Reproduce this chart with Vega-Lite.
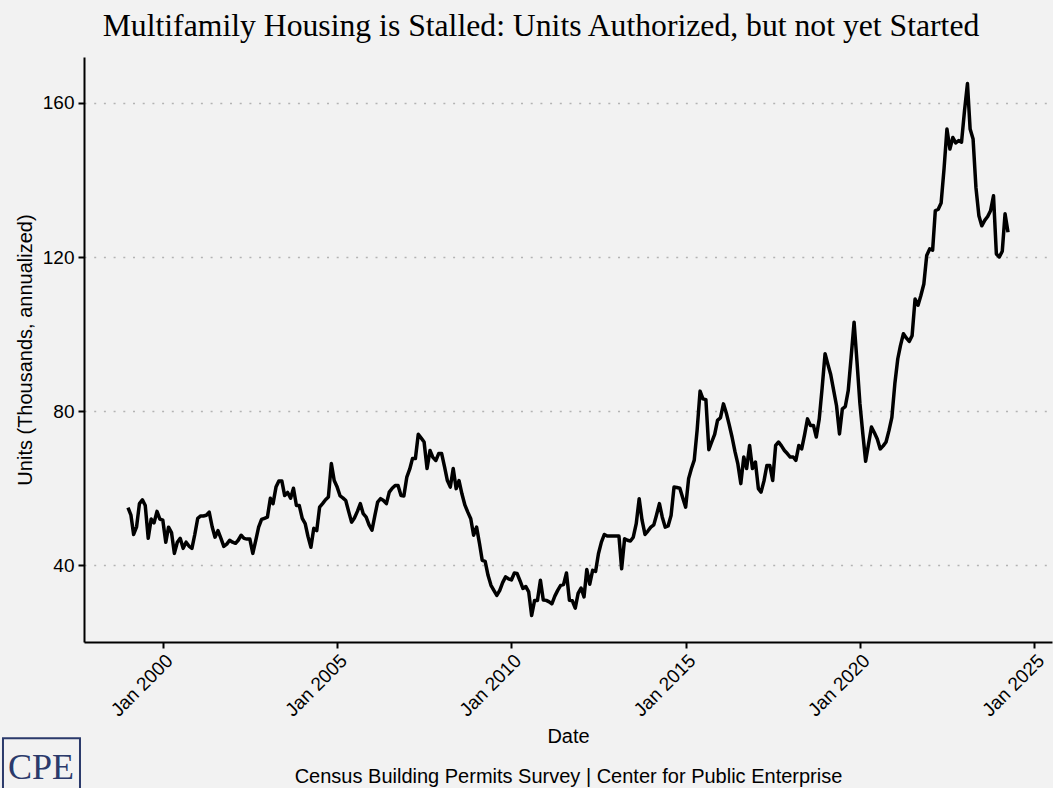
{
  "$schema": "https://vega.github.io/schema/vega-lite/v6.json",
  "width": 968,
  "height": 585,
  "autosize": {"type": "none"},
  "padding": {"left": 84, "top": 57, "right": 1, "bottom": 146},
  "background": "#f2f2f2",
  "title": {
    "text": "Multifamily Housing is Stalled: Units Authorized, but not yet Started",
    "font": "Liberation Serif",
    "fontSize": 31.7,
    "fontWeight": "normal",
    "color": "black",
    "anchor": "middle",
    "dx": -27,
    "offset": 14
  },
  "config": {
    "view": {"stroke": null},
    "font": "Liberation Sans",
    "axis": {
      "domainColor": "black",
      "domainWidth": 2,
      "tickColor": "black",
      "tickWidth": 2,
      "tickSize": 6,
      "labelColor": "black",
      "labelFont": "Liberation Sans",
      "labelFontSize": 19,
      "titleColor": "black",
      "titleFont": "Liberation Sans",
      "titleFontSize": 20,
      "titleFontWeight": "normal"
    }
  },
  "data": {
    "values": [
      {"date": "1999-01-01", "units": 55}, {"date": "1999-02-01", "units": 53}, {"date": "1999-03-01", "units": 48}, {"date": "1999-04-01", "units": 50}, {"date": "1999-05-01", "units": 56}, {"date": "1999-06-01", "units": 57}, {"date": "1999-07-01", "units": 55.5}, {"date": "1999-08-01", "units": 47}, {"date": "1999-09-01", "units": 52}, {"date": "1999-10-01", "units": 51}, {"date": "1999-11-01", "units": 54}, {"date": "1999-12-01", "units": 52},
      {"date": "2000-01-01", "units": 51.7}, {"date": "2000-02-01", "units": 46}, {"date": "2000-03-01", "units": 49.9}, {"date": "2000-04-01", "units": 48.5}, {"date": "2000-05-01", "units": 43.1}, {"date": "2000-06-01", "units": 46}, {"date": "2000-07-01", "units": 47}, {"date": "2000-08-01", "units": 44.4}, {"date": "2000-09-01", "units": 46}, {"date": "2000-10-01", "units": 45}, {"date": "2000-11-01", "units": 44.4}, {"date": "2000-12-01", "units": 48},
      {"date": "2001-01-01", "units": 52.2}, {"date": "2001-02-01", "units": 52.8}, {"date": "2001-03-01", "units": 52.8}, {"date": "2001-04-01", "units": 53}, {"date": "2001-05-01", "units": 53.8}, {"date": "2001-06-01", "units": 50}, {"date": "2001-07-01", "units": 47.3}, {"date": "2001-08-01", "units": 49}, {"date": "2001-09-01", "units": 47}, {"date": "2001-10-01", "units": 44.9}, {"date": "2001-11-01", "units": 45.5}, {"date": "2001-12-01", "units": 46.5},
      {"date": "2002-01-01", "units": 46}, {"date": "2002-02-01", "units": 45.7}, {"date": "2002-03-01", "units": 46.5}, {"date": "2002-04-01", "units": 47.8}, {"date": "2002-05-01", "units": 47}, {"date": "2002-06-01", "units": 46.8}, {"date": "2002-07-01", "units": 46.8}, {"date": "2002-08-01", "units": 43.1}, {"date": "2002-09-01", "units": 46.5}, {"date": "2002-10-01", "units": 49.9}, {"date": "2002-11-01", "units": 51.9}, {"date": "2002-12-01", "units": 52.2},
      {"date": "2003-01-01", "units": 52.5}, {"date": "2003-02-01", "units": 57.4}, {"date": "2003-03-01", "units": 56}, {"date": "2003-04-01", "units": 60.3}, {"date": "2003-05-01", "units": 61.9}, {"date": "2003-06-01", "units": 61.9}, {"date": "2003-07-01", "units": 58.1}, {"date": "2003-08-01", "units": 58.9}, {"date": "2003-09-01", "units": 57.4}, {"date": "2003-10-01", "units": 60}, {"date": "2003-11-01", "units": 55.5}, {"date": "2003-12-01", "units": 55.5},
      {"date": "2004-01-01", "units": 52.2}, {"date": "2004-02-01", "units": 50.8}, {"date": "2004-03-01", "units": 47.5}, {"date": "2004-04-01", "units": 44.7}, {"date": "2004-05-01", "units": 49.6}, {"date": "2004-06-01", "units": 49}, {"date": "2004-07-01", "units": 55.1}, {"date": "2004-08-01", "units": 56}, {"date": "2004-09-01", "units": 57}, {"date": "2004-10-01", "units": 57.7}, {"date": "2004-11-01", "units": 66.4}, {"date": "2004-12-01", "units": 62},
      {"date": "2005-01-01", "units": 60.3}, {"date": "2005-02-01", "units": 58}, {"date": "2005-03-01", "units": 57.5}, {"date": "2005-04-01", "units": 56.8}, {"date": "2005-05-01", "units": 54}, {"date": "2005-06-01", "units": 51.2}, {"date": "2005-07-01", "units": 52.3}, {"date": "2005-08-01", "units": 54}, {"date": "2005-09-01", "units": 56}, {"date": "2005-10-01", "units": 53.4}, {"date": "2005-11-01", "units": 52.5}, {"date": "2005-12-01", "units": 50.5},
      {"date": "2006-01-01", "units": 49.1}, {"date": "2006-02-01", "units": 53}, {"date": "2006-03-01", "units": 56.4}, {"date": "2006-04-01", "units": 57.3}, {"date": "2006-05-01", "units": 56.8}, {"date": "2006-06-01", "units": 56}, {"date": "2006-07-01", "units": 59}, {"date": "2006-08-01", "units": 60}, {"date": "2006-09-01", "units": 60.7}, {"date": "2006-10-01", "units": 60.7}, {"date": "2006-11-01", "units": 58.1}, {"date": "2006-12-01", "units": 58},
      {"date": "2007-01-01", "units": 62.9}, {"date": "2007-02-01", "units": 65}, {"date": "2007-03-01", "units": 67.7}, {"date": "2007-04-01", "units": 67.7}, {"date": "2007-05-01", "units": 74}, {"date": "2007-06-01", "units": 73}, {"date": "2007-07-01", "units": 72}, {"date": "2007-08-01", "units": 65.1}, {"date": "2007-09-01", "units": 69.8}, {"date": "2007-10-01", "units": 68}, {"date": "2007-11-01", "units": 67.2}, {"date": "2007-12-01", "units": 69},
      {"date": "2008-01-01", "units": 69}, {"date": "2008-02-01", "units": 65.5}, {"date": "2008-03-01", "units": 62}, {"date": "2008-04-01", "units": 60.3}, {"date": "2008-05-01", "units": 65.1}, {"date": "2008-06-01", "units": 59.9}, {"date": "2008-07-01", "units": 62}, {"date": "2008-08-01", "units": 58.5}, {"date": "2008-09-01", "units": 55.6}, {"date": "2008-10-01", "units": 53.8}, {"date": "2008-11-01", "units": 52.1}, {"date": "2008-12-01", "units": 47.8},
      {"date": "2009-01-01", "units": 49.9}, {"date": "2009-02-01", "units": 45.6}, {"date": "2009-03-01", "units": 41.3}, {"date": "2009-04-01", "units": 41}, {"date": "2009-05-01", "units": 37.4}, {"date": "2009-06-01", "units": 34.8}, {"date": "2009-07-01", "units": 33.5}, {"date": "2009-08-01", "units": 32.2}, {"date": "2009-09-01", "units": 33.5}, {"date": "2009-10-01", "units": 35.5}, {"date": "2009-11-01", "units": 37}, {"date": "2009-12-01", "units": 36.5},
      {"date": "2010-01-01", "units": 36.2}, {"date": "2010-02-01", "units": 38}, {"date": "2010-03-01", "units": 37.9}, {"date": "2010-04-01", "units": 36}, {"date": "2010-05-01", "units": 34}, {"date": "2010-06-01", "units": 34.5}, {"date": "2010-07-01", "units": 33.1}, {"date": "2010-08-01", "units": 27}, {"date": "2010-09-01", "units": 30.9}, {"date": "2010-10-01", "units": 30.9}, {"date": "2010-11-01", "units": 36.1}, {"date": "2010-12-01", "units": 31},
      {"date": "2011-01-01", "units": 30.9}, {"date": "2011-02-01", "units": 30.5}, {"date": "2011-03-01", "units": 30}, {"date": "2011-04-01", "units": 32}, {"date": "2011-05-01", "units": 33.5}, {"date": "2011-06-01", "units": 34.8}, {"date": "2011-07-01", "units": 35}, {"date": "2011-08-01", "units": 38}, {"date": "2011-09-01", "units": 30.9}, {"date": "2011-10-01", "units": 30.8}, {"date": "2011-11-01", "units": 28.9}, {"date": "2011-12-01", "units": 32.7},
      {"date": "2012-01-01", "units": 34.1}, {"date": "2012-02-01", "units": 31.8}, {"date": "2012-03-01", "units": 38.9}, {"date": "2012-04-01", "units": 35.1}, {"date": "2012-05-01", "units": 38.7}, {"date": "2012-06-01", "units": 38.4}, {"date": "2012-07-01", "units": 43}, {"date": "2012-08-01", "units": 46}, {"date": "2012-09-01", "units": 48}, {"date": "2012-10-01", "units": 47.6}, {"date": "2012-11-01", "units": 47.6}, {"date": "2012-12-01", "units": 47.6},
      {"date": "2013-01-01", "units": 47.6}, {"date": "2013-02-01", "units": 47.6}, {"date": "2013-03-01", "units": 39.1}, {"date": "2013-04-01", "units": 46.9}, {"date": "2013-05-01", "units": 46.5}, {"date": "2013-06-01", "units": 46.3}, {"date": "2013-07-01", "units": 47.3}, {"date": "2013-08-01", "units": 50.8}, {"date": "2013-09-01", "units": 57.3}, {"date": "2013-10-01", "units": 51.7}, {"date": "2013-11-01", "units": 48}, {"date": "2013-12-01", "units": 48.9},
      {"date": "2014-01-01", "units": 49.9}, {"date": "2014-02-01", "units": 50.5}, {"date": "2014-03-01", "units": 53}, {"date": "2014-04-01", "units": 56}, {"date": "2014-05-01", "units": 52.5}, {"date": "2014-06-01", "units": 49.9}, {"date": "2014-07-01", "units": 50.2}, {"date": "2014-08-01", "units": 52.9}, {"date": "2014-09-01", "units": 60.3}, {"date": "2014-10-01", "units": 60.2}, {"date": "2014-11-01", "units": 60}, {"date": "2014-12-01", "units": 57.5},
      {"date": "2015-01-01", "units": 55.1}, {"date": "2015-02-01", "units": 62.5}, {"date": "2015-03-01", "units": 65}, {"date": "2015-04-01", "units": 67.3}, {"date": "2015-05-01", "units": 75}, {"date": "2015-06-01", "units": 85.2}, {"date": "2015-07-01", "units": 83.2}, {"date": "2015-08-01", "units": 83}, {"date": "2015-09-01", "units": 70}, {"date": "2015-10-01", "units": 72}, {"date": "2015-11-01", "units": 74}, {"date": "2015-12-01", "units": 77.6},
      {"date": "2016-01-01", "units": 78.3}, {"date": "2016-02-01", "units": 81.9}, {"date": "2016-03-01", "units": 79.6}, {"date": "2016-04-01", "units": 76.5}, {"date": "2016-05-01", "units": 73.3}, {"date": "2016-06-01", "units": 69.5}, {"date": "2016-07-01", "units": 66.3}, {"date": "2016-08-01", "units": 61.2}, {"date": "2016-09-01", "units": 68.1}, {"date": "2016-10-01", "units": 65.1}, {"date": "2016-11-01", "units": 71.1}, {"date": "2016-12-01", "units": 65.1},
      {"date": "2017-01-01", "units": 66.8}, {"date": "2017-02-01", "units": 59.9}, {"date": "2017-03-01", "units": 59}, {"date": "2017-04-01", "units": 61.9}, {"date": "2017-05-01", "units": 65.9}, {"date": "2017-06-01", "units": 65.9}, {"date": "2017-07-01", "units": 62}, {"date": "2017-08-01", "units": 71.1}, {"date": "2017-09-01", "units": 72}, {"date": "2017-10-01", "units": 71}, {"date": "2017-11-01", "units": 69.8}, {"date": "2017-12-01", "units": 69},
      {"date": "2018-01-01", "units": 68.1}, {"date": "2018-02-01", "units": 68.1}, {"date": "2018-03-01", "units": 67.2}, {"date": "2018-04-01", "units": 71.1}, {"date": "2018-05-01", "units": 70.2}, {"date": "2018-06-01", "units": 74}, {"date": "2018-07-01", "units": 78}, {"date": "2018-08-01", "units": 76.3}, {"date": "2018-09-01", "units": 76.3}, {"date": "2018-10-01", "units": 73.3}, {"date": "2018-11-01", "units": 78}, {"date": "2018-12-01", "units": 86},
      {"date": "2019-01-01", "units": 94.9}, {"date": "2019-02-01", "units": 92}, {"date": "2019-03-01", "units": 89.5}, {"date": "2019-04-01", "units": 85.4}, {"date": "2019-05-01", "units": 81.4}, {"date": "2019-06-01", "units": 74.1}, {"date": "2019-07-01", "units": 80.6}, {"date": "2019-08-01", "units": 81.2}, {"date": "2019-09-01", "units": 85.4}, {"date": "2019-10-01", "units": 94}, {"date": "2019-11-01", "units": 103.1}, {"date": "2019-12-01", "units": 93},
      {"date": "2020-01-01", "units": 82}, {"date": "2020-02-01", "units": 74}, {"date": "2020-03-01", "units": 67}, {"date": "2020-04-01", "units": 71.5}, {"date": "2020-05-01", "units": 75.9}, {"date": "2020-06-01", "units": 74.4}, {"date": "2020-07-01", "units": 72.8}, {"date": "2020-08-01", "units": 70.2}, {"date": "2020-09-01", "units": 71}, {"date": "2020-10-01", "units": 72}, {"date": "2020-11-01", "units": 75}, {"date": "2020-12-01", "units": 78.4},
      {"date": "2021-01-01", "units": 87.1}, {"date": "2021-02-01", "units": 93.6}, {"date": "2021-03-01", "units": 97}, {"date": "2021-04-01", "units": 100.1}, {"date": "2021-05-01", "units": 99}, {"date": "2021-06-01", "units": 98.1}, {"date": "2021-07-01", "units": 99.6}, {"date": "2021-08-01", "units": 109.1}, {"date": "2021-09-01", "units": 107.5}, {"date": "2021-10-01", "units": 110}, {"date": "2021-11-01", "units": 113}, {"date": "2021-12-01", "units": 120.4},
      {"date": "2022-01-01", "units": 122.1}, {"date": "2022-02-01", "units": 121.8}, {"date": "2022-03-01", "units": 132}, {"date": "2022-04-01", "units": 132.4}, {"date": "2022-05-01", "units": 134}, {"date": "2022-06-01", "units": 143}, {"date": "2022-07-01", "units": 153.2}, {"date": "2022-08-01", "units": 148}, {"date": "2022-09-01", "units": 151}, {"date": "2022-10-01", "units": 149.6}, {"date": "2022-11-01", "units": 150.2}, {"date": "2022-12-01", "units": 149.8},
      {"date": "2023-01-01", "units": 157.9}, {"date": "2023-02-01", "units": 165}, {"date": "2023-03-01", "units": 153.2}, {"date": "2023-04-01", "units": 150.6}, {"date": "2023-05-01", "units": 138}, {"date": "2023-06-01", "units": 130.7}, {"date": "2023-07-01", "units": 128.1}, {"date": "2023-08-01", "units": 129.5}, {"date": "2023-09-01", "units": 130.5}, {"date": "2023-10-01", "units": 132}, {"date": "2023-11-01", "units": 135.9}, {"date": "2023-12-01", "units": 120.8},
      {"date": "2024-01-01", "units": 120}, {"date": "2024-02-01", "units": 121.5}, {"date": "2024-03-01", "units": 131.2}, {"date": "2024-04-01", "units": 126.4}
    ]
  },
  "layer": [
    {
      "mark": {"type": "line", "color": "black", "strokeWidth": 3.5, "strokeJoin": "round"},
      "encoding": {
        "x": {
          "field": "date",
          "type": "temporal",
          "scale": {"type": "utc", "domain": [{"year": 1997, "month": 9, "date": 27, "utc": true}, {"year": 2025, "month": 7, "date": 6, "utc": true}]},
          "axis": {
            "values": [
              {"year": 2000, "month": 1, "date": 1, "utc": true},
              {"year": 2005, "month": 1, "date": 1, "utc": true},
              {"year": 2010, "month": 1, "date": 1, "utc": true},
              {"year": 2015, "month": 1, "date": 1, "utc": true},
              {"year": 2020, "month": 1, "date": 1, "utc": true},
              {"year": 2025, "month": 1, "date": 1, "utc": true}
            ],
            "format": "%b %Y",
            "labelAngle": -45,
            "labelPadding": 3,
            "grid": false,
            "title": ["Date", "Census Building Permits Survey | Center for Public Enterprise"],
            "titleLineHeight": 40,
            "titleBaseline": "alphabetic",
            "titleY": 100
          }
        },
        "y": {
          "field": "units",
          "type": "quantitative",
          "scale": {"domain": [20.1, 171.9], "nice": false, "zero": false},
          "axis": {
            "values": [40, 80, 120, 160],
            "grid": true,
            "gridColor": "#b3b3b3",
            "gridDash": [2, 7.7],
            "gridWidth": 1.5,
            "labelPadding": 4,
            "title": "Units (Thousands, annualized)",
            "titlePadding": 7
          }
        }
      }
    },
    {
      "data": {"values": [{"logo": "CPE"}]},
      "mark": {"type": "rect", "fill": null, "stroke": "#2b3a6b", "strokeWidth": 2, "clip": false},
      "encoding": {
        "x": {"datum": {"year": 1995, "month": 6, "date": 1, "utc": true}, "type": "temporal"},
        "x2": {"datum": {"year": 1997, "month": 8, "date": 16, "utc": true}},
        "y": {"datum": -4.9, "type": "quantitative"},
        "y2": {"datum": -19.5}
      }
    },
    {
      "data": {"values": [{"logo": "CPE"}]},
      "mark": {"type": "text", "font": "Liberation Serif", "fontSize": 36, "color": "#2b3a6b", "baseline": "alphabetic", "align": "center", "clip": false},
      "encoding": {
        "x": {"datum": {"year": 1996, "month": 7, "date": 3, "utc": true}, "type": "temporal"},
        "y": {"datum": -15.4, "type": "quantitative"},
        "text": {"field": "logo"}
      }
    }
  ]
}
